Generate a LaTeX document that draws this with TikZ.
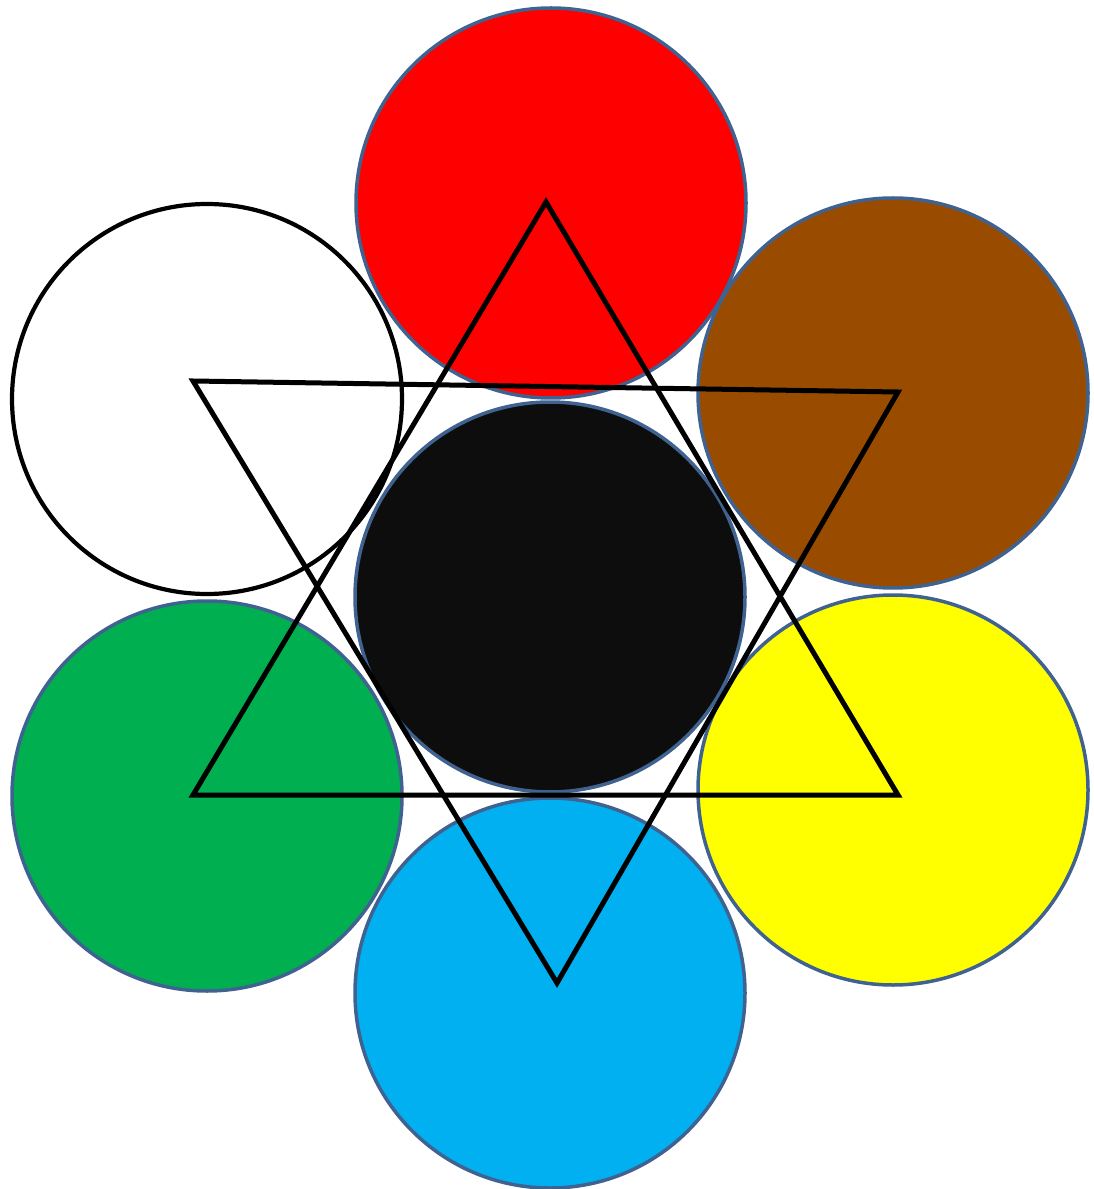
\documentclass[tikz,border=0pt]{standalone}
\usepackage{tikz}
\usetikzlibrary{positioning}
\definecolor{rim}{HTML}{3F6290}
\definecolor{redfill}{HTML}{FF0000}
\definecolor{brownfill}{HTML}{994C00}
\definecolor{greenfill}{HTML}{00B050}
\definecolor{yellowfill}{HTML}{FFFF00}
\definecolor{bluefill}{HTML}{00B0F0}
\definecolor{blackfill}{HTML}{0D0D0D}
\tikzset{
  disc/.style={circle,draw=rim,line width=0.35mm,minimum size=39mm,inner sep=0pt},
  plaindisc/.style={disc,draw=black,line width=0.42mm,fill=white},
  edge/.style={draw=black,line width=0.5mm,line join=miter}
}
\begin{document}
\begin{tikzpicture}[x=0.1mm,y=-0.1mm]
  \useasboundingbox (0,0) rectangle (1094,1189);
  % colour wheel
  \node[disc,fill=redfill] (red) at (551,203) {};
  \node[disc,fill=brownfill] (brown) at (893,393) {};
  \node[plaindisc] (white) at (207,399) {};
  \node[disc,fill=blackfill] (black) at (550,597) {};
  \node[disc,fill=greenfill] (green) at (207,796) {};
  \node[disc,fill=yellowfill] (yellow) at (893,790) {};
  \node[disc,fill=bluefill] (blue) at (550,993) {};
  % star
  \coordinate (up) at (546,202);
  \coordinate (upl) at (193,795);
  \coordinate (upr) at (898,795);
  \coordinate (dnl) at (193,381);
  \coordinate (dnr) at (898,392);
  \coordinate (dn) at (557,983);
  \draw[edge] (up) -- (upr) -- (upl) -- cycle;
  \draw[edge] (dnl) -- (dnr) -- (dn) -- cycle;
\end{tikzpicture}
\end{document}
